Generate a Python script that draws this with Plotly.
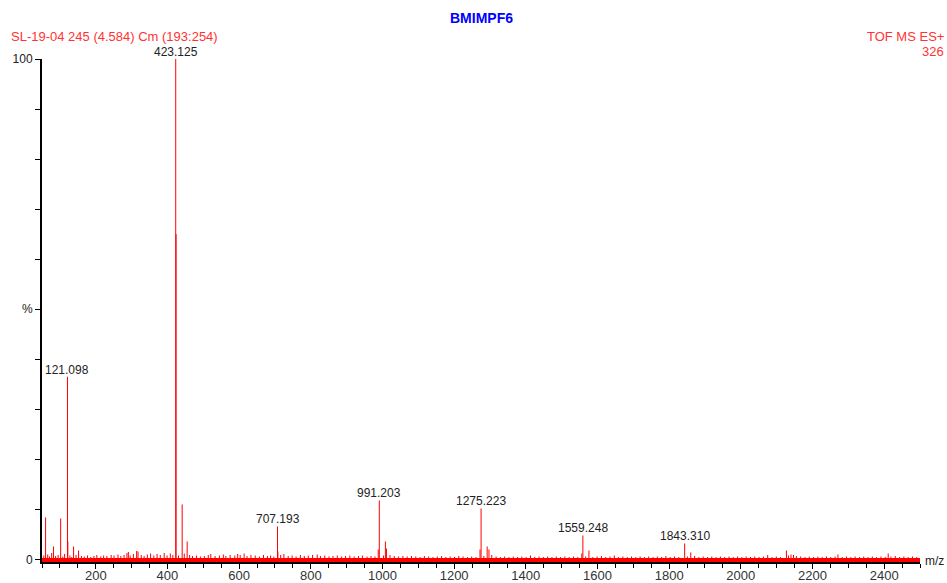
import plotly.graph_objects as go

# Major peaks (m/z, relative intensity %)
peaks = [
    (60.0, 8.4), (82.0, 2.6), (102.1, 8.2), (121.098, 36.5), (122.1, 3.6),
    (138.1, 2.6), (152.0, 1.8), (287.0, 1.3), (314.0, 1.7),
    (423.125, 100.0), (424.1, 65.0), (441.1, 11.0), (455.1, 3.6),
    (707.193, 6.6), (708.2, 1.6), (988.2, 2.0), (991.203, 11.8), (1008.2, 3.6), (1011.2, 2.2),
    (1272.2, 2.0), (1275.223, 10.2), (1292.2, 2.6), (1297.2, 2.0),
    (1556.2, 1.2), (1559.248, 4.8), (1576.2, 1.8),
    (1843.310, 3.2), (1860.3, 1.4), (2075.0, 0.9), (2127.3, 1.8), (2140.0, 1.0), (2271.0, 1.0), (2411.3, 1.2),
]

# Labelled peaks
labelled = [121.098, 423.125, 707.193, 991.203, 1275.223, 1559.248, 1843.310]

# Baseline noise (m/z, %)
noise = [
    (55, 0.8), (66, 1.0), (71, 0.6), (77, 1.3), (88, 0.7), (95, 0.9), (108, 0.6), (113, 1.1),
    (128, 0.8), (133, 0.5), (145, 0.9), (160, 0.7), (168, 0.6), (177, 0.8), (186, 0.5), (195, 0.7),
    (203, 0.9), (214, 0.6), (222, 0.8), (231, 0.7), (243, 0.9), (251, 0.8), (262, 1.0), (270, 0.7),
    (279, 0.9), (291, 1.5), (296, 0.8), (305, 1.1), (318, 1.6), (327, 0.9), (335, 0.7), (344, 1.0),
    (353, 1.2), (362, 0.8), (371, 1.1), (380, 0.9), (391, 1.3), (399, 0.8), (408, 1.2), (415, 0.9),
    (431, 0.8), (447, 1.2), (462, 0.9), (470, 0.7), (481, 0.8), (492, 0.6), (503, 0.7), (514, 0.9),
    (521, 1.1), (533, 0.7), (545, 0.8), (556, 1.0), (563, 0.7), (575, 0.9), (588, 0.8), (596, 1.1),
    (603, 0.9), (614, 1.2), (622, 0.7), (633, 0.9), (645, 0.8), (657, 0.6), (668, 0.9), (679, 0.7),
    (688, 0.8), (697, 0.6), (716, 0.9), (725, 1.1), (737, 0.7), (748, 0.8), (759, 0.6), (771, 0.9),
    (782, 0.7), (793, 0.8), (805, 0.9), (818, 1.0), (827, 0.7), (839, 0.8), (851, 0.6), (862, 0.7),
    (874, 0.8), (886, 0.6), (897, 0.7), (909, 0.8), (921, 0.6), (933, 0.7), (944, 0.8), (957, 0.6),
    (968, 0.7), (979, 0.6), (1003, 0.8), (1021, 0.9), (1033, 0.7), (1045, 0.6), (1057, 0.7), (1069, 0.6),
    (1081, 0.7), (1093, 0.6), (1105, 0.5), (1117, 0.7), (1129, 0.6), (1141, 0.5), (1153, 0.6), (1165, 0.7),
    (1177, 0.5), (1189, 0.6), (1201, 0.5), (1213, 0.7), (1225, 0.6), (1237, 0.5), (1249, 0.6), (1261, 0.5),
    (1283, 0.7), (1305, 0.9), (1317, 0.6), (1329, 0.5), (1341, 0.6), (1353, 0.5), (1365, 0.6), (1377, 0.5),
    (1389, 0.6), (1401, 0.5), (1413, 0.8), (1425, 0.5), (1437, 0.6), (1449, 0.5), (1461, 0.6), (1473, 0.5),
    (1485, 0.6), (1497, 0.5), (1509, 0.6), (1521, 0.5), (1533, 0.6), (1545, 0.5), (1567, 0.6), (1587, 0.5),
    (1599, 0.6), (1611, 0.7), (1623, 0.5), (1635, 0.6), (1647, 0.8), (1659, 0.5), (1671, 0.6), (1683, 0.5),
    (1695, 0.6), (1707, 0.5), (1719, 0.6), (1731, 0.5), (1743, 0.6), (1755, 0.5), (1767, 0.6), (1779, 0.5),
    (1791, 0.7), (1803, 0.5), (1815, 0.6), (1827, 0.5), (1851, 0.6), (1871, 0.7), (1883, 0.5), (1895, 0.6),
    (1907, 0.5), (1919, 0.6), (1931, 0.5), (1943, 0.6), (1955, 0.5), (1967, 0.6), (1979, 0.5), (1991, 0.6),
    (2003, 0.5), (2015, 0.6), (2027, 0.5), (2039, 0.6), (2051, 0.5), (2063, 0.6), (2087, 0.5), (2099, 0.6),
    (2111, 0.5), (2133, 0.8), (2147, 0.9), (2155, 0.7), (2167, 0.6), (2179, 0.5), (2191, 0.6), (2203, 0.5),
    (2215, 0.6), (2227, 0.5), (2239, 0.6), (2251, 0.5), (2263, 0.6), (2283, 0.5), (2295, 0.6), (2307, 0.5),
    (2319, 0.6), (2331, 0.5), (2343, 0.6), (2355, 0.5), (2367, 0.6), (2379, 0.5), (2391, 0.6), (2403, 0.5),
    (2419, 0.6), (2431, 0.7), (2443, 0.5), (2455, 0.6), (2467, 0.5), (2479, 0.6), (2491, 0.5),
]

x_range = [50, 2500]
y_range = [-0.5, 100]
x_major = [200, 400, 600, 800, 1000, 1200, 1400, 1600, 1800, 2000, 2200, 2400]
y_ticks = [0, 10, 20, 30, 40, 50, 60, 70, 80, 90, 100]
y_tick_text = ["0", "", "", "", "", "%", "", "", "", "", "100"]

RED = "#ff0000"
FONT = "Arial, Liberation Sans, sans-serif"


def sticks(pairs):
    xs, ys = [], []
    for mz, inten in pairs:
        xs += [mz, mz, None]
        ys += [0, inten, None]
    return xs, ys


fig = go.Figure()
nx, ny = sticks(noise)
fig.add_trace(go.Scatter(x=nx, y=ny, mode="lines", line=dict(color=RED, width=1),
                         hoverinfo="skip", showlegend=False))
px, py = sticks(peaks)
fig.add_trace(go.Scatter(x=px, y=py, mode="lines", line=dict(color=RED, width=1),
                         hoverinfo="skip", showlegend=False))

peak_dict = dict(peaks)
for mz in labelled:
    fig.add_annotation(x=mz, y=peak_dict[mz], text=f"{mz:.3f}", showarrow=False,
                       yanchor="bottom", yshift=-2, font=dict(family=FONT, size=12, color="#222"))

fig.update_layout(
    width=947, height=583,
    margin=dict(l=42, r=27, t=59, b=21),
    paper_bgcolor="white", plot_bgcolor="white",
    font=dict(family=FONT, size=12, color="#222"),
    xaxis=dict(range=x_range, showgrid=False, zeroline=False, showline=True, automargin=False,
               linecolor="black", linewidth=2, ticks="outside", ticklen=5, tickwidth=1,
               tickcolor="black", tickvals=x_major, ticklabelstandoff=-5,
               minor=dict(dtick=50, tick0=0, ticks="outside", ticklen=4, tickcolor="black", tickwidth=1),
               tickfont=dict(family=FONT, size=13, color="#333")),
    yaxis=dict(range=y_range, showgrid=False, zeroline=True, zerolinecolor=RED, zerolinewidth=4,
               showline=True, automargin=False, linecolor="black", linewidth=2, ticks="outside", ticklen=5,
               tickcolor="black", tickvals=y_ticks, ticktext=y_tick_text,
               tickfont=dict(family=FONT, size=12, color="#222")),
)

fig.add_annotation(xref="paper", yref="paper", x=0.5, y=1, yshift=41, text="<b>BMIMPF6</b>",
                   showarrow=False, xanchor="center", yanchor="middle",
                   font=dict(family=FONT, size=14, color="#0000ff"))
fig.add_annotation(xref="paper", yref="paper", x=0, xshift=-33, y=1, yshift=23,
                   text="SL-19-04 245 (4.584) Cm (193:254)", showarrow=False,
                   xanchor="left", yanchor="middle", font=dict(family=FONT, size=13, color="#ff3333"))
fig.add_annotation(xref="paper", yref="paper", x=1, xshift=26, y=1, yshift=23,
                   text="TOF MS ES+", showarrow=False,
                   xanchor="right", yanchor="middle", font=dict(family=FONT, size=13, color="#ff3333"))
fig.add_annotation(xref="paper", yref="paper", x=1, xshift=26, y=1, yshift=8,
                   text="326", showarrow=False,
                   xanchor="right", yanchor="middle", font=dict(family=FONT, size=13, color="#ff3333"))
fig.add_annotation(xref="paper", yref="paper", x=1, xshift=3, y=0, yshift=1,
                   text="m/z", showarrow=False,
                   xanchor="left", yanchor="middle", font=dict(family=FONT, size=12, color="#222"))

fig.write_html("out.html")
